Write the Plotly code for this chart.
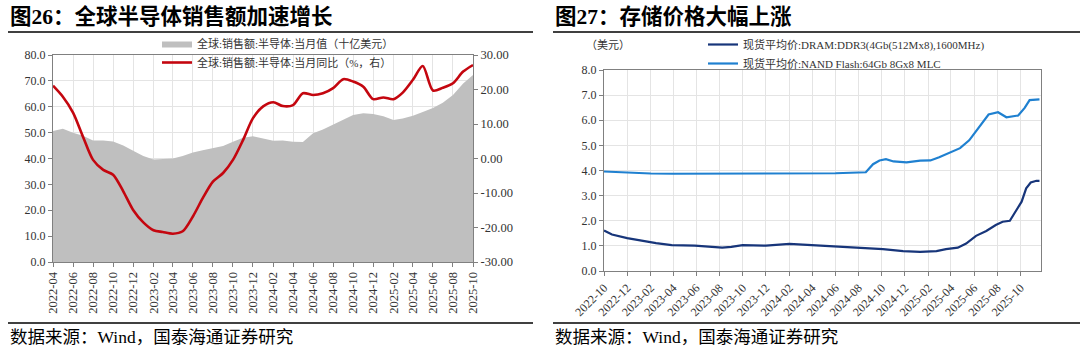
import pandas as pd
import plotly.graph_objects as go

# ---------------- Left chart data (monthly) ----------------
months = pd.date_range("2022-04-01", "2025-10-01", freq="MS")
sales_value = [50.6, 51.5, 50.0, 48.8, 47.0, 47.0, 46.6, 45.0, 43.0, 41.0,
               39.6, 39.8, 40.0, 41.0, 42.3, 43.2, 44.0, 44.8, 46.5, 48.0,
               48.6, 47.8, 46.9, 47.0, 46.5, 46.4, 49.8, 51.2, 53.0, 55.0,
               56.8, 57.5, 57.2, 56.3, 54.9, 55.5, 56.5, 58.0, 59.5, 61.5,
               64.5, 69.0, 72.3]
sales_yoy = [21.1, 17.9, 13.3, 6.4, -0.4, -3.3, -4.7, -9.5, -14.9, -18.5,
             -20.8, -21.3, -21.8, -21.1, -16.8, -11.5, -6.7, -4.2, -0.4, 5.4,
             11.7, 15.1, 16.3, 15.2, 15.5, 18.9, 18.4, 18.9, 20.4, 23.0,
             22.3, 20.8, 17.2, 17.7, 17.2, 19.1, 22.8, 26.8, 19.7, 20.5,
             21.8, 25.2, 27.1]
left_yticks = [0, 10, 20, 30, 40, 50, 60, 70, 80]
right_yticks = [-30, -20, -10, 0, 10, 20, 30]
right_ytext = ["-30.00", "-20.00", "-10.00", "0.00", "10.00", "20.00", "30.00"]

# ---------------- Right chart data ----------------
dram_dates = ["2022-10-01", "2022-10-22", "2022-12-01", "2023-01-10", "2023-02-15",
              "2023-03-28", "2023-05-28", "2023-08-08", "2023-09-01", "2023-10-01",
              "2023-12-01", "2024-02-01", "2024-03-25", "2024-06-04", "2024-08-04",
              "2024-10-04", "2024-11-26", "2025-01-10", "2025-02-22", "2025-03-19",
              "2025-04-19", "2025-05-11", "2025-06-06", "2025-07-03", "2025-07-28",
              "2025-08-15", "2025-09-03", "2025-09-16", "2025-10-04", "2025-10-16",
              "2025-10-28", "2025-11-12", "2025-11-20"]
dram_price = [1.61, 1.45, 1.31, 1.20, 1.11, 1.03, 1.01, 0.93, 0.96, 1.03,
              1.01, 1.08, 1.04, 0.98, 0.93, 0.87, 0.79, 0.76, 0.79, 0.87,
              0.93, 1.09, 1.40, 1.59, 1.83, 1.96, 2.00, 2.32, 2.76, 3.29,
              3.52, 3.59, 3.59]
nand_dates = ["2022-10-01", "2022-12-01", "2023-02-01", "2023-04-01", "2023-08-01",
              "2024-01-01", "2024-06-01", "2024-08-20", "2024-09-08", "2024-09-25",
              "2024-10-12", "2024-11-01", "2024-12-05", "2025-01-10", "2025-02-06",
              "2025-03-01", "2025-03-28", "2025-04-25", "2025-05-19", "2025-06-06",
              "2025-06-25", "2025-07-09", "2025-08-03", "2025-08-25", "2025-09-25",
              "2025-10-12", "2025-10-25", "2025-11-12", "2025-11-20"]
nand_price = [3.96, 3.91, 3.88, 3.87, 3.88, 3.89, 3.89, 3.93, 4.25, 4.40,
              4.45, 4.36, 4.32, 4.39, 4.40, 4.53, 4.72, 4.89, 5.20, 5.56,
              5.93, 6.23, 6.32, 6.12, 6.19, 6.49, 6.80, 6.83, 6.83]
price_yticks = [0, 1, 2, 3, 4, 5, 6, 7, 8]

W, H = 1080, 352
def px(x):
    return x / W
def py(y):
    return (H - y) / H

FONT = "'Liberation Serif', 'Times New Roman', 'Noto Sans CJK SC', serif"
TXT = "#333333"
GRID = "#E4E4E4"
AX = "#808080"

fig = go.Figure()

fig.add_trace(go.Scatter(
    x=months, y=sales_value, xaxis="x", yaxis="y", mode="lines",
    fill="tozeroy", fillcolor="#BFBFBF", line=dict(width=0, color="#BFBFBF"),
    name="全球:销售额:半导体:当月值（十亿美元）", legend="legend"))
fig.add_trace(go.Scatter(
    x=months, y=sales_yoy, xaxis="x", yaxis="y2", mode="lines",
    line=dict(color="#C4060F", width=2.6, shape="spline", smoothing=0.8),
    name="全球:销售额:半导体:当月同比（%，右）", legend="legend"))

fig.add_trace(go.Scatter(
    x=dram_dates, y=dram_price, xaxis="x2", yaxis="y3", mode="lines",
    line=dict(color="#17357A", width=2.2),
    name="现货平均价:DRAM:DDR3(4Gb(512Mx8),1600MHz)", legend="legend2"))
fig.add_trace(go.Scatter(
    x=nand_dates, y=nand_price, xaxis="x2", yaxis="y3", mode="lines",
    line=dict(color="#1F80D0", width=2.2),
    name="现货平均价:NAND Flash:64Gb 8Gx8 MLC", legend="legend2"))

axis_common = dict(showgrid=True, gridcolor=GRID, gridwidth=1, showline=True,
                   linecolor=AX, linewidth=1.2, ticks="outside", ticklen=4,
                   tickcolor=AX, tickfont=dict(family=FONT, size=12, color=TXT),
                   zeroline=False, automargin=False)

fig.update_layout(
    width=W, height=H, margin=dict(l=0, r=0, t=0, b=0, autoexpand=False),
    paper_bgcolor="white", plot_bgcolor="white",
    font=dict(family=FONT, color=TXT),
    hovermode=False,
    xaxis=dict(domain=[px(53), px(473)], anchor="y", type="date",
               range=["2022-04-01", "2025-10-01"], tick0="2022-04-01", dtick="M2",
               tickformat="%Y-%m", tickangle=-90, mirror=True,
               **{**axis_common, "tickfont": dict(family=FONT, size=12.5, color=TXT)}),
    yaxis=dict(domain=[py(262), py(55)], anchor="x", range=[0, 80],
               tickvals=left_yticks, tickformat=".1f", mirror=False, **axis_common),
    yaxis2=dict(overlaying="y", anchor="x", side="right", range=[-30, 30],
                tickvals=right_yticks, ticktext=right_ytext, showgrid=False,
                showline=True, linecolor=AX, linewidth=1.2, ticks="outside",
                ticklen=4, tickcolor=AX, zeroline=False, automargin=False,
                tickfont=dict(family=FONT, size=12.5, color=TXT)),
    xaxis2=dict(domain=[px(604), px(1041)], anchor="y3", type="date",
                range=["2022-10-01", "2025-11-24"], tick0="2022-10-01", dtick="M2",
                tickformat="%Y-%m", tickangle=-45, mirror=True, **axis_common),
    yaxis3=dict(domain=[py(271), py(70)], anchor="x2", range=[0, 8],
                tickvals=price_yticks, tickformat=".1f", mirror=True, **axis_common),
    legend=dict(x=px(157), y=py(29), xanchor="left", yanchor="top",
                orientation="v", bgcolor="rgba(0,0,0,0)",
                font=dict(family=FONT, size=11, color=TXT),
                itemwidth=30, tracegroupgap=0, traceorder="normal"),
    legend2=dict(x=px(703), y=py(30), xanchor="left", yanchor="top",
                 orientation="v", bgcolor="rgba(0,0,0,0)",
                 font=dict(family=FONT, size=11, color=TXT),
                 itemwidth=30, tracegroupgap=0, traceorder="normal"),
)

TITLE_FONT = "'Liberation Serif', 'Noto Sans CJK SC', sans-serif"
ann = [
    dict(text="<b>图26：全球半导体销售额加速增长</b>", x=px(8), y=py(17),
         font=dict(family=TITLE_FONT, size=21.5, color="#000000")),
    dict(text="<b>图27：存储价格大幅上涨</b>", x=px(553), y=py(17),
         font=dict(family=TITLE_FONT, size=21.5, color="#000000")),
    dict(text="数据来源：Wind，国泰海通证券研究", x=px(8), y=py(337),
         font=dict(family=FONT, size=17.5, color="#000000")),
    dict(text="数据来源：Wind，国泰海通证券研究", x=px(553), y=py(337),
         font=dict(family=FONT, size=17.5, color="#000000")),
    dict(text="（美元）", x=px(584), y=py(45),
         font=dict(family=FONT, size=11, color=TXT)),
]
for a in ann:
    fig.add_annotation(xref="paper", yref="paper", xanchor="left", yanchor="middle",
                       showarrow=False, **a)

for x0, x1 in [(8, 533), (553, 1080)]:
    for yy in (32, 323):
        fig.add_shape(type="line", xref="paper", yref="paper",
                      x0=px(x0), x1=px(x1), y0=py(yy), y1=py(yy),
                      line=dict(color="#000000", width=1.5))

fig.write_html("out.html")
